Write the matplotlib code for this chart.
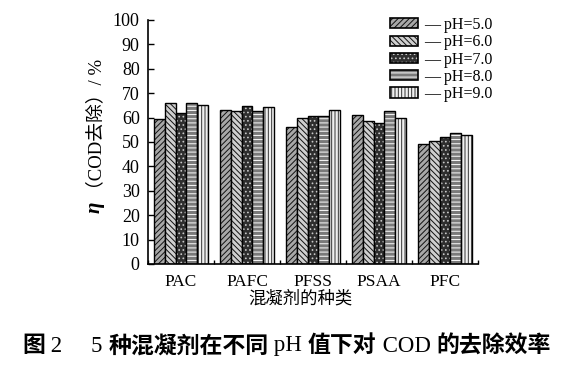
import matplotlib
matplotlib.use("Agg")
import matplotlib.pyplot as plt
import numpy as np
from matplotlib.patches import Patch

categories = ["PAC", "PAFC", "PFSS", "PSAA", "PFC"]
series_labels = ["pH=5.0", "pH=6.0", "pH=7.0", "pH=8.0", "pH=9.0"]
ph50 = [59.5, 63.3, 56.0, 61.0, 49.0]
ph60 = [66.0, 62.5, 59.8, 58.8, 50.5]
ph70 = [62.0, 64.8, 60.6, 57.8, 52.0]
ph80 = [66.0, 62.8, 60.6, 62.5, 53.5]
ph90 = [65.0, 64.2, 63.2, 60.0, 53.0]
yticks = [0, 10, 20, 30, 40, 50, 60, 70, 80, 90, 100]

series = [ph50, ph60, ph70, ph80, ph90]
faces = ["#a8a8a8", "#cfcfcf", "#2e2e2e", "#7a7a7a", "#f0f0f0"]
hcols = ["#111111", "#111111", "#c8c8c8", "#ffffff", "#333333"]
hatches = ["//////", "\\\\\\\\\\\\", "....", "----", "|||||"]

serif = ["Liberation Serif", "Noto Sans CJK SC"]
cjk = ["Noto Sans CJK SC", "Liberation Serif"]
plt.rcParams['font.family'] = serif
plt.rcParams['hatch.linewidth'] = 0.7

fig = plt.figure(figsize=(5.73, 3.67), dpi=100)
ax = fig.add_axes([148/573, 1-264/367, (478-148)/573, (264-20)/367])

x = np.arange(len(categories))
w = 0.165
for i, vals in enumerate(series):
    pos = x + (i - 2) * w
    ax.bar(pos, vals, width=w, color=faces[i], hatch=hatches[i],
           edgecolor=hcols[i], linewidth=0)
    ax.bar(pos, vals, width=w, fill=False, edgecolor="black", linewidth=1.0)

ax.set_xlim(-0.5, len(categories) - 0.5)
ax.set_ylim(0, 100)
ax.set_yticks(yticks)
ax.set_yticklabels([str(t) for t in yticks], fontsize=13)
ax.set_xticks(x)
ax.set_xticklabels(categories, fontsize=12.5)
ax.set_xticks(np.arange(len(categories) + 1) - 0.5, minor=True)
ax.tick_params(axis='x', which='major', length=0, pad=7)
ax.tick_params(axis='x', which='minor', direction='in', length=3, width=1)
ax.tick_params(axis='y', direction='in', length=4, width=1, pad=6)
for s in ["top", "right"]:
    ax.spines[s].set_visible(False)
for s in ["left", "bottom"]:
    ax.spines[s].set_linewidth(1.2)

fig.text(300/573, 1-299/367, "混凝剂的种类", ha="center", va="center",
         fontsize=12.5, family=serif)
fig.text(96/573, 1-129/367, "（COD去除）/ %",
         rotation=90, ha="center", va="center", fontsize=13.5, family=serif)
fig.text(95/573, 1-207/367, "η", rotation=90, ha="center", va="center",
         fontsize=15, family=serif, style="italic", fontweight="bold")

handles = []
for i in range(len(series)):
    handles.append((Patch(facecolor=faces[i], hatch=hatches[i], edgecolor=hcols[i], linewidth=0),
                    Patch(fill=False, edgecolor="black", linewidth=1.2)))
leg = fig.legend(handles, ["— " + s for s in series_labels], loc="upper left",
                 bbox_to_anchor=(382/573, 1-9/367), frameon=False, fontsize=11.5,
                 handlelength=1.75, handleheight=0.6, labelspacing=0.08,
                 handletextpad=0.4, borderpad=0)

# caption: CJK parts bold, Latin parts regular serif
pieces = [("图", True), (" 2", False), ("     ", False), ("5 ", False), ("种混凝剂在不同", True),
          (" pH ", False), ("值下对", True), (" COD ", False), ("的去除效率", True)]
fig.canvas.draw()
renderer = fig.canvas.get_renderer()
texts = []
for s, bold in pieces:
    t = fig.text(0, 1-346/367, s, ha="left", va="center", fontsize=16.5,
                 family=cjk if bold else ["Liberation Serif"],
                 fontweight="bold" if bold else "normal")
    texts.append(t)
widths = [t.get_window_extent(renderer).width for t in texts]
total = sum(widths)
xpos = (573 - total) / 2
for t, wd in zip(texts, widths):
    t.set_x(xpos / 573)
    xpos += wd

fig.savefig("out.png", dpi=100)
